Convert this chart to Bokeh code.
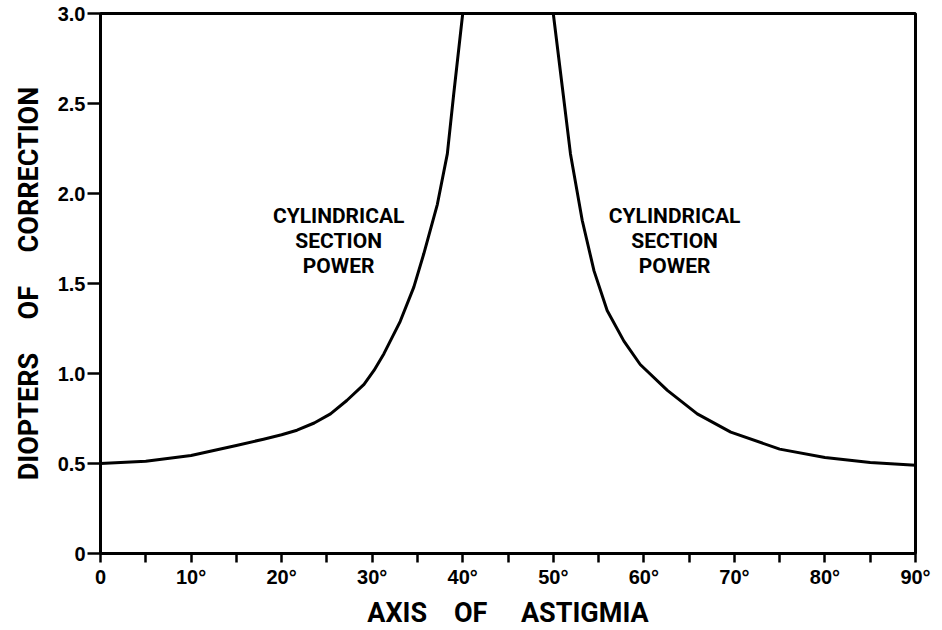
from bokeh.plotting import figure
from bokeh.models import Range1d, FixedTicker, ColumnDataSource, Title
from bokeh.core.properties import value
from bokeh.embed import file_html
from bokeh.resources import INLINE

# ---- data ----
LEFT_DEG = [0, 5, 10, 15, 18, 20, 21.7, 23.6, 25.4, 27.2, 29.1, 30.2, 31.3, 33.1, 34.6, 35.7, 37.2, 38.3, 39.0, 40.0]
LEFT_DIOPT = [0.50, 0.513, 0.544, 0.60, 0.635, 0.66, 0.685, 0.725, 0.776, 0.85, 0.94, 1.017, 1.11, 1.29, 1.48, 1.665, 1.94, 2.22, 2.55, 3.0]

RIGHT_DEG = [50.0, 51.0, 51.9, 53.2, 54.5, 55.95, 57.8, 59.6, 62.6, 65.9, 69.6, 75, 80, 85, 90]
RIGHT_DIOPT = [3.0, 2.59, 2.22, 1.85, 1.57, 1.35, 1.18, 1.05, 0.906, 0.776, 0.674, 0.58, 0.533, 0.505, 0.49]

X_TICKS = [0, 10, 20, 30, 40, 50, 60, 70, 80, 90]
X_MINOR = [5, 15, 25, 35, 45, 55, 65, 75, 85]
X_TICK_LABELS = ["0", "10°", "20°", "30°", "40°", "50°", "60°", "70°", "80°", "90°"]
Y_TICKS = [0, 0.5, 1.0, 1.5, 2.0, 2.5, 3.0]
Y_TICK_LABELS = ["0", "0.5", "1.0", "1.5", "2.0", "2.5", "3.0"]

NOTE_LINES = ["CYLINDRICAL", "SECTION", "POWER"]
NB = "\u00a0"
X_TITLE = "AXIS" + NB * 4 + "OF" + NB * 5 + "ASTIGMIA"
Y_TITLE = "DIOPTERS" + NB * 5 + "OF" + NB * 5 + "CORRECTION"

TICK_FONT = "Liberation Sans"
TITLE_FONT = "Roboto"

p = figure(
    frame_width=815, frame_height=540,
    x_range=Range1d(0, 90), y_range=Range1d(0, 3.0),
    output_backend="svg", toolbar_location=None,
    min_border_left=100, min_border_right=21, min_border_top=13, min_border_bottom=75,
    background_fill_color="white", border_fill_color="white",
)
p.grid.visible = False
p.outline_line_color = "black"
p.outline_line_width = 3

# x axis
xa = p.xaxis[0]
xa.ticker = FixedTicker(ticks=X_TICKS, minor_ticks=X_MINOR)
xa.major_label_overrides = {t: l for t, l in zip(X_TICKS, X_TICK_LABELS)}
xa.axis_line_width = 3
xa.major_tick_out = 9
xa.major_tick_in = 0
xa.minor_tick_out = 9
xa.minor_tick_in = 0
xa.major_tick_line_width = 2.5
xa.minor_tick_line_width = 2.5
xa.major_label_standoff = 3
xa.major_label_text_font = TICK_FONT
xa.major_label_text_font_style = "bold"
xa.major_label_text_font_size = "20px"
xa.major_label_text_color = "black"
xa.axis_label = X_TITLE
xa.axis_label_text_font = TITLE_FONT
xa.axis_label_text_font_style = "bold"
xa.axis_label_text_font_size = "27px"
xa.axis_label_text_color = "black"
xa.axis_label_standoff = 6

# y axis
ya = p.yaxis[0]
ya.ticker = FixedTicker(ticks=Y_TICKS, minor_ticks=[])
ya.major_label_overrides = {t: l for t, l in zip(Y_TICKS, Y_TICK_LABELS)}
ya.axis_line_width = 3
ya.major_tick_out = 13
ya.major_tick_in = 0
ya.major_tick_line_width = 2.5
ya.minor_tick_line_color = None
ya.major_label_standoff = 2
ya.major_label_text_font = TICK_FONT
ya.major_label_text_font_style = "bold"
ya.major_label_text_font_size = "20px"
ya.major_label_text_color = "black"

# vertical title on the left, shifted down like the reference
p.add_layout(Title(text=Y_TITLE, align="center", offset=-30, standoff=20,
                   text_font=TITLE_FONT, text_font_style="bold",
                   text_font_size="27px", text_color="black"), "left")

# curves
p.line(LEFT_DEG, LEFT_DIOPT, line_color="black", line_width=3, line_join="round")
p.line(RIGHT_DEG, RIGHT_DIOPT, line_color="black", line_width=3, line_join="round")

# notes
note_rows_y = [1.877, 1.737, 1.598]
for cx in (26.3, 63.4):
    src = ColumnDataSource(dict(x=[cx] * 3, y=note_rows_y, text=NOTE_LINES))
    p.text(x="x", y="y", text="text", source=src,
           text_font=value(TITLE_FONT), text_font_style="bold",
           text_font_size="21px", text_align="center", text_baseline="middle",
           text_color="black")

open("out.html", "w").write(file_html(p, INLINE))
